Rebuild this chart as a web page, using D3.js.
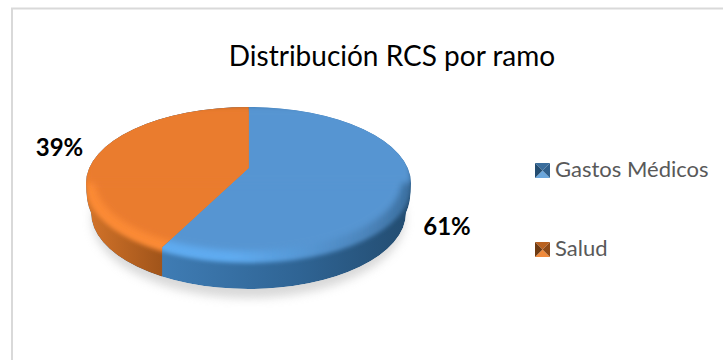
<!DOCTYPE html>
<html>
<head>
<meta charset="utf-8">
<script src="https://cdn.jsdelivr.net/npm/d3@7"></script>
<style>
  html, body { margin: 0; padding: 0; background: #fff; }
  text { font-family: Lato, sans-serif; }
</style>
</head>
<body>
<svg id="chart" width="723" height="360"></svg>
<script>
const categories = ["Gastos Médicos", "Salud"];
const shares = [61, 39];
const pctLabels = ["61%", "39%"];
const chartTitle = "Distribución RCS por ramo";

const faceColors = ["#5795d2", "#ea7b2e"];
const glowColors = ["#5fabf0", "#fb8a35"];
const sideLeft = ["#3f7cb4", "#d4742a"];
const sideRight = ["#234c70", "#a0541a"];

const svg = d3.select("#chart");
const defs = svg.append("defs");

const cx = 248.5, cy = 183, rx = 162.5, ry = 76, depth = 30, inset = 5;
// the apex sits above the ellipse centre in the original perspective
const apex = [cx, 168];

const pie = d3.pie().sort(null)(shares);

// point on the rim for a pie angle, pinched towards the front like the original
function rim(angle) {
    const u = Math.sin(angle), v = Math.cos(angle), k = -0.22;
    const d = 1 + k * v;
    return [cx + rx * u * Math.sqrt(1 - k * k) / d, cy - ry * (v + k) / d];
}

const hull = `M${cx - rx},${cy} A${rx},${ry} 0 0 1 ${cx + rx},${cy}`
    + ` Q${cx + rx},${cy + depth - 10} ${cx + rx - inset},${cy + depth}`
    + ` A${rx - inset},${ry} 0 0 1 ${cx - rx + inset},${cy + depth}`
    + ` Q${cx - rx},${cy + depth - 10} ${cx - rx},${cy} Z`;

function blur(id, sd) {
    defs.append("filter").attr("id", id).attr("x", "-20%").attr("y", "-20%").attr("width", "140%").attr("height", "140%")
        .append("feGaussianBlur").attr("stdDeviation", sd);
}
blur("blurBig", 5);
blur("blurMid", 3);
blur("blurSmall", 2.2);
defs.append("clipPath").attr("id", "hullClip").append("path").attr("d", hull);

// clip of the smaller slice, the first slice is painted whole under it
const start = rim(pie[1].startAngle);
const pad = 20;
defs.append("clipPath").attr("id", "sliceClip").append("path")
    .attr("d", `M${cx},${cy - ry - pad} L${apex[0]},${apex[1]} L${start[0]},${start[1]} L${start[0]},${cy + ry + depth + pad} L${cx - rx - pad},${cy + ry + depth + pad} L${cx - rx - pad},${cy - ry - pad} Z`);

categories.forEach((c, i) => {
    const g = defs.append("linearGradient").attr("id", "side" + i)
        .attr("gradientUnits", "userSpaceOnUse")
        .attr("x1", i ? cx - rx : start[0]).attr("x2", i ? start[0] : cx + rx).attr("y1", 0).attr("y2", 0);
    g.append("stop").attr("offset", 0).attr("stop-color", sideLeft[i]);
    if (!i) g.append("stop").attr("offset", 0.55).attr("stop-color", "#2f6494");
    g.append("stop").attr("offset", 1).attr("stop-color", sideRight[i]);
    const r = defs.append("linearGradient").attr("id", "rimGlow" + i)
        .attr("gradientUnits", "userSpaceOnUse")
        .attr("x1", cx - rx).attr("x2", cx + rx).attr("y1", 0).attr("y2", 0);
    r.append("stop").attr("offset", 0).attr("stop-color", glowColors[i]);
    r.append("stop").attr("offset", 0.45).attr("stop-color", glowColors[i]);
    r.append("stop").attr("offset", 0.85).attr("stop-color", "#4d86bd");
    r.append("stop").attr("offset", 1).attr("stop-color", "#3b6f9f");
});

// border of the chart area
svg.append("path").attr("d", "M12,360 L12,8.5 L723,8.5")
    .attr("fill", "none").attr("stroke", "#d9d9d9").attr("stroke-width", 2);

svg.append("text").attr("x", 392).attr("y", 66).attr("text-anchor", "middle")
    .attr("font-size", 28).attr("fill", "#000").text(chartTitle);

// soft shadow under the disc
svg.append("ellipse").attr("cx", cx).attr("cy", cy + depth + 6).attr("rx", rx - 6).attr("ry", ry + 3)
    .attr("fill", "#c4c4c4").attr("opacity", 0.65).attr("filter", "url(#blurBig)");

const slices = svg.selectAll(".slice").data(categories).join("g")
    .attr("class", "slice")
    .attr("clip-path", (d, i) => i ? "url(#sliceClip)" : null)
    .append("g").attr("clip-path", "url(#hullClip)");

slices.append("path").attr("d", hull).attr("fill", (d, i) => `url(#side${i})`);
slices.append("ellipse").attr("cx", cx).attr("cy", cy + 4).attr("rx", rx).attr("ry", ry)
    .attr("fill", (d, i) => `url(#rimGlow${i})`).attr("filter", "url(#blurSmall)");
slices.append("ellipse").attr("cx", cx).attr("cy", cy - 3).attr("rx", rx - 9).attr("ry", ry - 5)
    .attr("fill", (d, i) => faceColors[i]).attr("filter", "url(#blurMid)");
slices.append("rect").attr("x", cx - rx).attr("y", cy - ry).attr("width", 2 * rx).attr("height", ry)
    .attr("fill", (d, i) => faceColors[i]).attr("filter", "url(#blurMid)");

// percent labels
const labelPos = [[447, 235], [59.5, 156]];
svg.selectAll(".pct").data(pctLabels).join("text").attr("class", "pct")
    .attr("x", (d, i) => labelPos[i][0]).attr("y", (d, i) => labelPos[i][1])
    .attr("text-anchor", "middle").attr("font-size", 24).attr("font-weight", 700).attr("fill", "#000")
    .text(d => d);

// legend
const legendY = d3.scalePoint().domain(categories).range([163, 242]);
const keyShades = [
    ["#3a6d9c", "#6aa6dc", "#234c70", "#2f5f8c"],
    ["#b9611f", "#f08a3c", "#6e3a12", "#8f4a17"]
];
const legend = svg.selectAll(".key").data(categories).join("g").attr("class", "key")
    .attr("transform", d => `translate(535,${legendY(d)})`);
[[[0, 0], [15, 0]], [[0, 15], [15, 15]], [[0, 0], [0, 15]], [[15, 0], [15, 15]]].forEach((edge, e) => {
    legend.append("path")
        .attr("d", `M${edge[0]} L${edge[1]} L7.5,7.5 Z`)
        .attr("fill", (d, i) => keyShades[i][e]);
});
legend.append("text").attr("x", 20).attr("y", 14)
    .attr("font-size", 22).attr("fill", "#595959").text(d => d);
</script>
</body>
</html>
